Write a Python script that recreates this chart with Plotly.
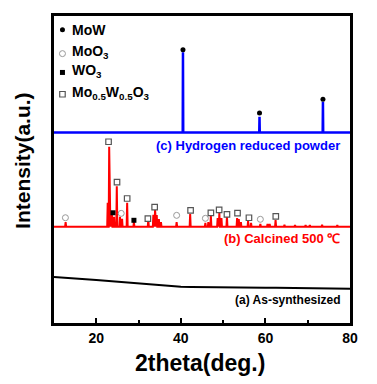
import plotly.graph_objects as go

# ---------------- data (intensity in arbitrary units; stacked offsets) ----------------
# (c) Hydrogen reduced powder – MoW peaks
c_offset = 192.3
c_peak_pos = [40.5, 58.6, 73.6]
c_peak_int = [81.0, 16.0, 31.0]

# (b) Calcined 500 ℃
b_offset = 97.3
b_peak_pos = [12.75, 22.7, 23.05, 23.45, 23.7, 24.2, 24.85, 25.6, 26.1, 27.3, 28.9,
              32.3, 33.5, 33.9, 34.3, 34.8, 35.3, 39.0, 42.2, 45.8, 46.5, 47.1,
              48.7, 49.1, 49.6, 50.9, 53.3, 53.7, 54.2, 55.9, 56.6, 58.8, 60.5,
              61.0, 62.4, 64.5, 67.0, 69.5, 70.5, 73.4, 77.0]
b_peak_int = [4.7, 24.0, 80.7, 15.7, 12.0, 10.0, 40.7, 10.0, 8.0, 24.0, 4.7,
              7.7, 12.0, 16.7, 11.7, 7.7, 4.7, 4.7, 12.7, 3.7, 4.7, 10.7,
              8.7, 13.7, 8.7, 9.7, 8.7, 7.7, 4.7, 5.7, 3.7, 2.7, 2.7,
              2.7, 6.7, 2.0, 1.5, 1.5, 1.5, 2.0, 1.5]

# (a) As-synthesized – amorphous background
a_x = [10, 12.5, 15, 17.5, 20, 22.5, 25, 27.5, 30, 32.5, 35, 37.5, 40, 42.5, 45,
       47.5, 50, 52.5, 55, 57.5, 60, 62.5, 65, 67.5, 70, 72.5, 75, 77.5, 80]
a_y = [46.5, 46.0, 45.2, 44.3, 43.4, 42.5, 41.5, 40.6, 39.7, 38.8, 38.0, 37.2, 36.6,
       36.3, 36.1, 36.1, 35.9, 35.9, 35.7, 35.8, 35.6, 35.5, 35.4, 35.3, 35.1, 35.0,
       34.8, 34.8, 34.7]

# phase markers
mow_x = [40.5, 58.6, 73.6]
mow_y = [276, 212, 226]
moo3_x = [12.7, 25.9, 39.0, 45.8, 58.8]
moo3_y = [106.3, 110.7, 108.7, 105.7, 104.7]
wo3_x = [23.95, 28.9]
wo3_y = [111.3, 103.7]
mixed_x = [22.9, 24.9, 27.3, 32.2, 33.8, 42.3, 47.1, 49.05, 50.9, 53.4, 56.1, 62.45]
mixed_y = [183, 142.3, 125.7, 105.3, 117, 113.7, 111.3, 114.3, 109.7, 111, 106.3, 107.7]

x_tickvals = [20, 40, 60, 80]
x_minor = [30, 50, 70]

FONT = "Liberation Sans, Arial, sans-serif"


def stick_line(pos, inten, offset, w):
    xs, ys = [10.0], [offset]
    for p, h in sorted(zip(pos, inten)):
        xs += [p - w, p, p + w]
        ys += [offset, offset + h, offset]
    xs.append(80.0)
    ys.append(offset)
    return xs, ys


fig = go.Figure()

cx, cy = stick_line(c_peak_pos, c_peak_int, c_offset, 0.06)
fig.add_trace(go.Scatter(x=cx, y=cy, mode="lines", line=dict(color="#0000ff", width=2.5)))

bx, by = stick_line(b_peak_pos, b_peak_int, b_offset, 0.12)
fig.add_trace(go.Scatter(x=bx, y=by, mode="lines", line=dict(color="#ff0000", width=2)))

fig.add_trace(go.Scatter(x=a_x, y=a_y, mode="lines", line=dict(color="black", width=2)))

# markers on patterns
fig.add_trace(go.Scatter(x=mow_x, y=mow_y, mode="markers",
                         marker=dict(symbol="circle", size=5, color="black")))
fig.add_trace(go.Scatter(x=moo3_x, y=moo3_y, mode="markers",
                         marker=dict(symbol="circle-open", size=6, color="#999999",
                                     line=dict(width=1))))
fig.add_trace(go.Scatter(x=wo3_x, y=wo3_y, mode="markers",
                         marker=dict(symbol="square", size=5, color="black")))
fig.add_trace(go.Scatter(x=mixed_x, y=mixed_y, mode="markers",
                         marker=dict(symbol="square", size=5.5, color="white",
                                     line=dict(width=1.2, color="#555555"))))

# legend symbols
leg_x = 12.0
fig.add_trace(go.Scatter(x=[leg_x], y=[296], mode="markers",
                         marker=dict(symbol="circle", size=5, color="black")))
fig.add_trace(go.Scatter(x=[leg_x], y=[272], mode="markers",
                         marker=dict(symbol="circle-open", size=6, color="#999999",
                                     line=dict(width=1))))
fig.add_trace(go.Scatter(x=[leg_x], y=[253], mode="markers",
                         marker=dict(symbol="square", size=5, color="black")))
fig.add_trace(go.Scatter(x=[leg_x], y=[231], mode="markers",
                         marker=dict(symbol="square", size=5.5, color="white",
                                     line=dict(width=1.2, color="#555555"))))

leg_font = dict(family=FONT, size=14, color="black", weight="bold")
legend_rows = [("MoW", 296), ("MoO<sub>3</sub>", 274), ("WO<sub>3</sub>", 254),
               ("Mo<sub>0.5</sub>W<sub>0.5</sub>O<sub>3</sub>", 232)]
for txt, yy in legend_rows:
    fig.add_annotation(x=13.7, y=yy, xref="x", yref="y", text=txt, showarrow=False,
                       xanchor="left", yanchor="middle", font=leg_font)

# pattern labels
fig.add_annotation(x=78.0, y=179.7, text="(c) Hydrogen reduced powder", showarrow=False,
                   xanchor="right", yanchor="middle",
                   font=dict(family=FONT, size=13, color="#0000ff", weight="bold"))
fig.add_annotation(x=78.0, y=85.7, text="(b) Calcined 500 ℃", showarrow=False,
                   xanchor="right", yanchor="middle",
                   font=dict(family=FONT, size=13, color="#ff0000", weight="bold"))
fig.add_annotation(x=78.3, y=23.7, text="(a) As-synthesized", showarrow=False,
                   xanchor="right", yanchor="middle",
                   font=dict(family=FONT, size=12, color="black", weight="bold"))

# axis titles
fig.add_annotation(x=0.494, y=-0.129, xref="paper", yref="paper", text="2theta(deg.)",
                   showarrow=False, xanchor="center", yanchor="middle",
                   font=dict(family=FONT, size=23, color="black", weight="bold"))
fig.add_annotation(x=-0.107, y=0.529, xref="paper", yref="paper", text="Intensity(a.u.)",
                   showarrow=False, xanchor="center", yanchor="middle", textangle=-90,
                   font=dict(family=FONT, size=21, color="black", weight="bold"))

# the page body adds an 8px margin, so the figure is 8px smaller on each side
fig.update_layout(
    width=369, height=376,
    margin=dict(l=46, r=27, t=5, b=61),
    paper_bgcolor="white", plot_bgcolor="white",
    showlegend=False,
    xaxis=dict(range=[10, 80], tickvals=x_tickvals, ticks="inside", ticklen=5, tickwidth=2,
               tickcolor="black", showline=True, linecolor="black", linewidth=2.5,
               mirror=True, showgrid=False, zeroline=False,
               tickfont=dict(family=FONT, size=14, color="black", weight="bold"),
               minor=dict(tickvals=x_minor, ticks="inside", ticklen=3, tickwidth=2,
                          tickcolor="black", showgrid=False)),
    yaxis=dict(range=[0, 310], showticklabels=False, ticks="", showline=True,
               linecolor="black", linewidth=2.5, mirror=True, showgrid=False,
               zeroline=False),
)

fig.write_html("out.html")
